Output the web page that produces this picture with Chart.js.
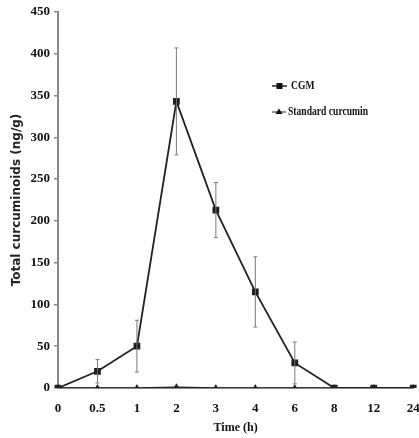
<!DOCTYPE html>
<html>
<head>
<meta charset="utf-8">
<script src="https://cdn.jsdelivr.net/npm/chart.js@4"></script>
<style>
  html, body { margin: 0; padding: 0; background: #fff; }
  #wrap { width: 419px; height: 438px; }
</style>
</head>
<body>
<div id="wrap"><canvas id="myChart"></canvas></div>
<script>
const timeLabels = ["0", "0.5", "1", "2", "3", "4", "6", "8", "12", "24"];
const cgm = [0, 20, 50, 343, 213, 115, 30, 0, 0, 0];
const cgmErr = [0, 14, 31, 64, 33, 42, 25, 0, 0, 0];
const standard = [0, 0, 0, 1, 0, 0, 0, 0, 0, 0];
const yTicks = [0, 50, 100, 150, 200, 250, 300, 350, 400, 450];

const serif = '"Liberation Serif", "DejaVu Serif", serif';
const sans = '"DejaVu Sans", sans-serif';

// error bars for CGM, drawn through the chart scales
const errorBars = {
  id: 'errorBars',
  afterDatasetsDraw(chart) {
    const ctx = chart.ctx;
    const x = chart.scales.x, y = chart.scales.y;
    ctx.save();
    ctx.strokeStyle = '#7a7a7a';
    ctx.lineWidth = 1;
    cgm.forEach((v, i) => {
      if (!cgmErr[i]) return;
      const px = x.getPixelForValue(i);
      const top = y.getPixelForValue(v + cgmErr[i]);
      const bot = y.getPixelForValue(Math.max(0, v - cgmErr[i]));
      ctx.beginPath();
      ctx.moveTo(px, top); ctx.lineTo(px, bot);
      ctx.moveTo(px - 2, top); ctx.lineTo(px + 2, top);
      ctx.moveTo(px - 2, bot); ctx.lineTo(px + 2, bot);
      ctx.stroke();
    });
    ctx.restore();
  }
};

// legend inside the plot, right of the peak
const innerLegend = {
  id: 'innerLegend',
  afterDraw(chart) {
    const ctx = chart.ctx;
    ctx.save();
    ctx.fillStyle = '#111';
    ctx.strokeStyle = '#222';
    ctx.textBaseline = 'middle';
    // CGM
    ctx.lineWidth = 1.5;
    ctx.beginPath(); ctx.moveTo(272, 86); ctx.lineTo(287, 86); ctx.stroke();
    ctx.fillRect(276.5, 83, 6, 6);
    // Standard curcumin
    ctx.lineWidth = 1;
    ctx.beginPath(); ctx.moveTo(272, 112); ctx.lineTo(286, 112); ctx.stroke();
    ctx.beginPath(); ctx.moveTo(279, 108.5); ctx.lineTo(282.5, 114); ctx.lineTo(275.5, 114); ctx.closePath(); ctx.fill();
    // condensed serif text
    ctx.font = 'bold 12px ' + serif;
    ctx.save(); ctx.translate(291, 86); ctx.scale(0.8, 1); ctx.fillText('CGM', 0, 0); ctx.restore();
    ctx.save(); ctx.translate(288, 112); ctx.scale(0.8, 1); ctx.fillText('Standard curcumin', 0, 0); ctx.restore();
    ctx.restore();
  }
};

const ctx = document.getElementById('myChart').getContext('2d');
const myChart = new Chart(ctx, {
  type: 'line',
  data: {
    labels: timeLabels,
    datasets: [
      {
        label: 'Standard curcumin',
        data: standard,
        borderColor: '#222',
        backgroundColor: '#222',
        borderWidth: 1.5,
        pointStyle: 'triangle',
        pointRadius: 2.5,
        tension: 0
      },
      {
        label: 'CGM',
        data: cgm,
        borderColor: '#222',
        backgroundColor: '#111',
        borderWidth: 1.8,
        pointStyle: 'rect',
        pointRadius: 3.5,
        tension: 0
      }
    ]
  },
  options: {
    responsive: true,
    maintainAspectRatio: false,
    animation: false,
    layout: { padding: { top: 12, right: 5, left: 0, bottom: 3 } },
    plugins: {
      legend: { display: false },
      tooltip: { enabled: false }
    },
    scales: {
      x: {
        offset: false,
        grid: { display: false, drawTicks: false },
        border: { color: '#888', width: 2 },
        ticks: {
          color: '#111',
          padding: 13,
          maxRotation: 0,
          font: { family: serif, size: 13, weight: 'bold' }
        },
        title: {
          display: true,
          text: 'Time (h)',
          color: '#111',
          padding: { top: 0, bottom: 0 },
          font: { family: serif, size: 12, weight: 'bold' }
        },
        afterFit(scale) {
          scale.height = 47;
          scale.paddingLeft = 0;
          scale.paddingRight = 0;
        }
      },
      y: {
        min: 0,
        max: 450,
        afterBuildTicks(scale) { scale.ticks = yTicks.map(v => ({ value: v })); },
        grid: { drawOnChartArea: false, drawTicks: true, tickLength: 4, color: '#888', lineWidth: 1.5 },
        border: { color: '#888', width: 2 },
        ticks: {
          color: '#111',
          padding: 4,
          font: { family: serif, size: 13, weight: 'bold' }
        },
        title: {
          display: true,
          text: 'Total curcuminoids (ng/g)',
          color: '#222',
          padding: { top: 10, bottom: 0 },
          font: { family: sans, size: 12, weight: 'bold' }
        },
        afterFit(scale) { scale.width = 58; }
      }
    }
  },
  plugins: [errorBars, innerLegend]
});
</script>
</body>
</html>
